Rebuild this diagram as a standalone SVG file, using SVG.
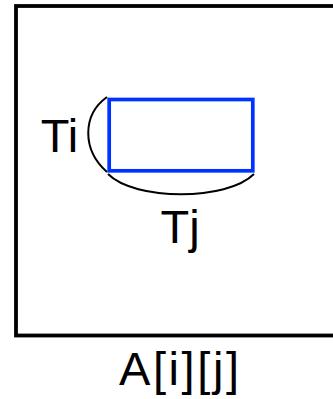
<svg xmlns="http://www.w3.org/2000/svg" width="333" height="399" viewBox="0 0 333 399">
<style>
.lbl{font-family:"Liberation Sans",Arial,sans-serif;font-size:47px;fill:#000;text-anchor:middle}
.arc{fill:none;stroke:#000;stroke-width:2}
</style>
<rect width="333" height="399" fill="#fff"/>
<g id="matrix">
<rect x="16" y="6" width="330" height="329.5" fill="none" stroke="#000" stroke-width="3.8"/>
<text class="lbl" x="179" y="385" textLength="120" lengthAdjust="spacing">A[i][j]</text>
</g>
<g id="tile">
<rect x="109.2" y="99.5" width="143.6" height="71.3" fill="none" stroke="#0033ff" stroke-width="3.7"/>
</g>
<g id="connectors">
<path class="arc" d="M107,97 C82,115 82,150 107,172"/>
<path class="arc" d="M108,174 C135,201 227,201 254,174"/>
</g>
<g id="label-ti">
<text class="lbl" x="59.5" y="151.7">Ti</text>
</g>
<g id="label-tj">
<text class="lbl" x="180" y="242.7">Tj</text>
</g>
</svg>
